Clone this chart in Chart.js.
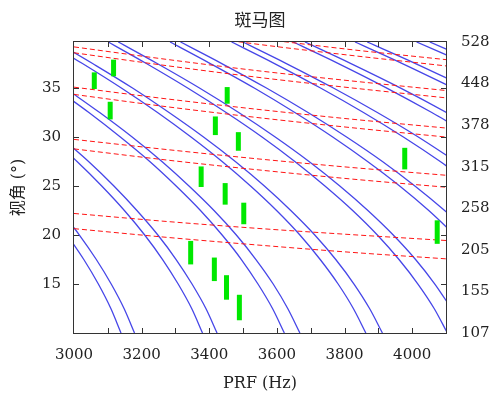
<!DOCTYPE html>
<html>
<head>
<meta charset="utf-8">
<script src="https://cdn.jsdelivr.net/npm/chart.js@4.4.1/dist/chart.umd.min.js"></script>
<style>
  html, body { margin: 0; padding: 0; background: #ffffff; }
  canvas { display: block; }
</style>
</head>
<body>
<canvas id="zebra" width="490" height="394"></canvas>
<script>
// Look angles (deg) at which the transmit-blockage curves are sampled
const lookAngles = [10, 12.5, 15, 17.5, 20, 22.5, 25, 27.5, 30, 32.5, 35, 37.5, 39.7];

// Transmit blockage: PRF (Hz) of the leading edge for ambiguity orders 13..22
const leadEdge = [
  [3139, 3109, 3072, 3029, 2980, null, null, null, null, null, null, null, null],
  [3380, 3348, 3308, 3262, 3209, 3149, 3082, 3009, 2928, null, null, null, null],
  [3622, 3587, 3544, 3495, 3438, 3374, 3302, 3224, 3137, 3044, 2944, null, null],
  [3863, 3826, 3781, 3728, 3668, 3599, 3522, 3438, 3346, 3247, 3140, 3025, 2919],
  [4104, 4065, 4017, 3961, 3897, 3824, 3742, 3653, 3556, 3450, 3336, 3214, 3101],
  [null, null, null, null, 4126, 4049, 3963, 3868, 3765, 3653, 3533, 3403, 3284],
  [null, null, null, null, null, null, 4183, 4083, 3974, 3856, 3729, 3593, 3466],
  [null, null, null, null, null, null, null, null, 4183, 4058, 3925, 3782, 3648],
  [null, null, null, null, null, null, null, null, null, null, 4122, 3971, 3831],
  [null, null, null, null, null, null, null, null, null, null, null, 4160, 4013]
];
// Transmit blockage: PRF (Hz) of the trailing edge for the same orders
const trailEdge = [
  [3179, 3148, 3110, 3066, 3016, 2959, null, null, null, null, null, null, null],
  [3423, 3390, 3349, 3302, 3248, 3186, 3118, 3043, 2960, null, null, null, null],
  [3668, 3632, 3589, 3538, 3480, 3414, 3340, 3260, 3172, 3076, 2974, null, null],
  [3912, 3874, 3828, 3774, 3712, 3641, 3563, 3477, 3383, 3281, 3173, 3055, 2947],
  [null, 4116, 4067, 4010, 3944, 3869, 3786, 3695, 3595, 3487, 3371, 3246, 3131],
  [null, null, null, null, 4176, 4096, 4008, 3912, 3806, 3692, 3569, 3437, 3315],
  [null, null, null, null, null, null, null, 4129, 4018, 3897, 3767, 3628, 3499],
  [null, null, null, null, null, null, null, null, 4229, 4102, 3966, 3819, 3683],
  [null, null, null, null, null, null, null, null, null, null, 4164, 4010, 3867],
  [null, null, null, null, null, null, null, null, null, null, null, 4201, 4052]
];

// Nadir echo: look angle (deg) at each PRF for orders 1..5 (near and far edge)
const nadirPrf = [3000, 3275, 3550, 3825, 4100];
const nadirNear = [
  [20.65, 19.76, 18.96, 18.22, 17.57],
  [28.79, 27.65, 26.63, 25.70, 24.88],
  [34.35, 33.09, 31.96, 30.94, 30.00],
  [38.60, 37.28, 36.07, 35.00, 34.00],
  [null, 40.73, 39.44, 38.31, 37.26]
];
const nadirFar = [
  [22.20, 21.38, 20.66, 20.03, 19.44],
  [29.76, 28.72, 27.75, 26.88, 26.10],
  [35.09, 33.89, 32.80, 31.81, 30.92],
  [39.20, 37.92, 36.74, 35.71, 34.75],
  [null, null, 40.03, 38.90, 37.90]
];

// Usable swaths: PRF (Hz) with lower / upper look angle (deg)
const barPrf  = [3060, 3117, 3107, 3453, 3418, 3486, 3376, 3447, 3502, 3345, 3415, 3451, 3489, 3978, 4074];
const barLow  = [34.9, 36.2, 31.8, 33.4, 30.2, 28.6, 24.9, 23.1, 21.1, 17.0, 15.3, 13.4, 11.3, 26.7, 19.1];
const barHigh = [36.6, 37.9, 33.6, 35.1, 32.1, 30.5, 27.0, 25.3, 23.3, 19.4, 17.7, 15.9, 13.9, 28.9, 21.5];

// Axis ticks
const prfTicks = [3000, 3100, 3200, 3300, 3400, 3500, 3600, 3700, 3800, 3900, 4000, 4100];
const prfLabelled = [3000, 3200, 3400, 3600, 3800, 4000];
const angleTicks = [15, 20, 25, 30, 35];
const groundRangeLabels = ['107', '155', '205', '258', '315', '378', '448', '528'];

const BLUE = 'rgb(70, 70, 232)';
const RED = 'rgb(255, 20, 20)';
const GREEN = 'rgb(0, 232, 0)';
const INK = '#222222';
const SERIF = "'DejaVu Serif', 'Liberation Serif', serif";

const datasets = [];

barPrf.forEach((p, i) => {
  datasets.push({
    data: [{ x: p, y: barLow[i] }, { x: p, y: barHigh[i] }],
    borderColor: GREEN,
    borderWidth: 5,
    borderCapStyle: 'butt',
    tension: 0,
    order: 1
  });
});

nadirNear.concat(nadirFar).forEach(row => {
  datasets.push({
    data: row.map((a, i) => (a == null ? null : { x: nadirPrf[i], y: a })).filter(Boolean),
    borderColor: RED,
    borderWidth: 1,
    borderDash: [5, 3],
    cubicInterpolationMode: 'monotone',
    order: 2
  });
});

leadEdge.concat(trailEdge).forEach(row => {
  datasets.push({
    data: row.map((p, i) => (p == null ? null : { x: p, y: lookAngles[i] })).filter(Boolean),
    borderColor: BLUE,
    borderWidth: 1.3,
    cubicInterpolationMode: 'monotone',
    order: 3
  });
});

// Frame, inward tick marks and the heading
const framePlugin = {
  id: 'frame',
  afterDatasetsDraw(chart) {
    const { ctx, chartArea: a, scales } = chart;
    ctx.save();
    ctx.strokeStyle = '#333333';
    ctx.lineWidth = 1;
    ctx.strokeRect(a.left - 0.5, a.top - 0.5, a.right - a.left + 1, a.bottom - a.top + 1);
    ctx.beginPath();
    prfTicks.forEach(v => {
      if (v <= scales.x.min || v >= scales.x.max) return;
      const px = Math.round(scales.x.getPixelForValue(v)) + 0.5;
      ctx.moveTo(px, a.bottom); ctx.lineTo(px, a.bottom - 5);
      ctx.moveTo(px, a.top); ctx.lineTo(px, a.top + 5);
    });
    angleTicks.forEach(v => {
      const py = Math.round(scales.y.getPixelForValue(v)) + 0.5;
      ctx.moveTo(a.left, py); ctx.lineTo(a.left + 5, py);
      ctx.moveTo(a.right, py); ctx.lineTo(a.right - 5, py);
    });
    ctx.stroke();
    ctx.restore();
  },
  afterDraw(chart) {
    const { ctx, chartArea: a } = chart;
    ctx.save();
    ctx.fillStyle = INK;
    ctx.font = "17px 'Noto Sans CJK SC'";
    ctx.textAlign = 'center';
    ctx.textBaseline = 'middle';
    ctx.fillText('斑马图', (a.left + a.right) / 2, 20);
    ctx.restore();
  }
};

new Chart(document.getElementById('zebra'), {
  type: 'line',
  data: { datasets },
  options: {
    responsive: false,
    animation: false,
    devicePixelRatio: 1,
    layout: { padding: { top: 42, left: 0, right: 0, bottom: 0 } },
    elements: { point: { radius: 0 } },
    plugins: {
      legend: { display: false },
      tooltip: { enabled: false },
      title: { display: false }
    },
    scales: {
      x: {
        type: 'linear',
        position: 'bottom',
        min: 3000,
        max: 4100,
        grid: { display: false, drawTicks: false },
        border: { display: false },
        afterBuildTicks: s => { s.ticks = prfTicks.map(v => ({ value: v })); },
        afterFit: s => { s.height = 61; },
        ticks: {
          autoSkip: false,
          maxRotation: 0,
          minRotation: 0,
          padding: 13,
          color: INK,
          font: { family: SERIF, size: 15 },
          callback: v => (prfLabelled.includes(v) ? String(v) : '')
        },
        title: {
          display: true,
          text: 'PRF (Hz)',
          color: INK,
          font: { family: SERIF, size: 16 },
          padding: { top: 0, bottom: 1 }
        }
      },
      y: {
        type: 'linear',
        position: 'left',
        min: 10,
        max: 39.7,
        grid: { display: false, drawTicks: false },
        border: { display: false },
        afterBuildTicks: s => { s.ticks = angleTicks.map(v => ({ value: v })); },
        afterFit: s => { s.width = 74; },
        ticks: {
          padding: 13,
          color: INK,
          font: { family: SERIF, size: 15 },
          callback: v => String(v)
        },
        title: {
          display: true,
          text: '视角 (°)',
          color: INK,
          font: { family: "'DejaVu Serif', 'Noto Sans CJK SC'", size: 16 },
          padding: { top: 9, bottom: 0 }
        }
      },
      y2: {
        type: 'linear',
        position: 'right',
        min: 0,
        max: 7,
        grid: { display: false, drawTicks: false },
        border: { display: false },
        afterBuildTicks: s => { s.ticks = groundRangeLabels.map((_, i) => ({ value: i })); },
        afterFit: s => { s.width = 44; },
        ticks: {
          padding: 15,
          color: INK,
          font: { family: SERIF, size: 15 },
          callback: v => groundRangeLabels[v]
        }
      }
    }
  },
  plugins: [framePlugin]
});
</script>
</body>
</html>
